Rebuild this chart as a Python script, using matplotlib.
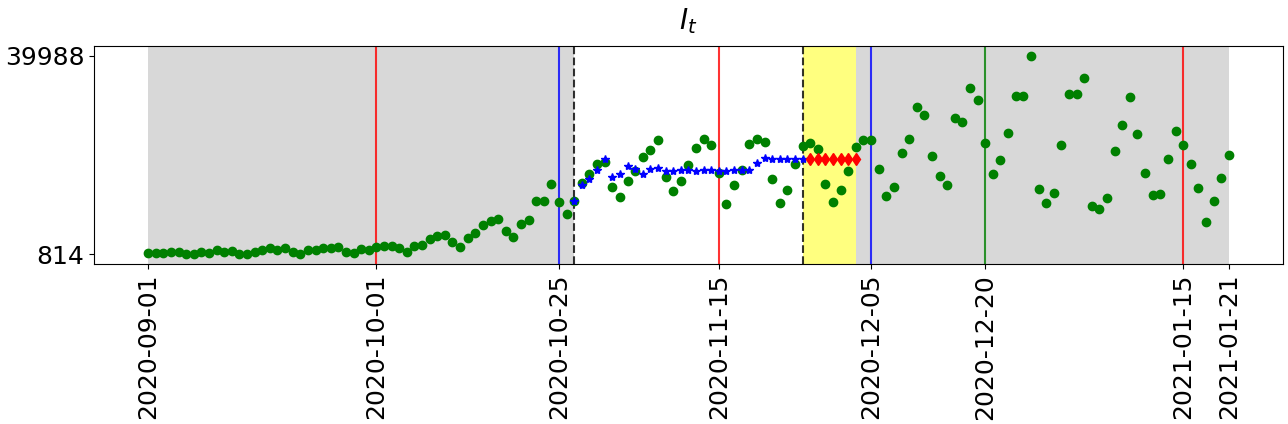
import matplotlib
matplotlib.use("Agg")
import matplotlib.pyplot as plt
import pandas as pd

# daily observed values, 2020-09-01 .. 2021-01-21
start = "2020-09-01"
observed = [
    1144, 1144, 1144, 1342, 1342, 946, 814, 1342, 1144, 1737,
    1342, 1540, 946, 814, 1342, 1737, 2133, 1737, 2133, 1342,
    814, 1737, 1737, 2133, 2133, 2331, 1342, 1144, 1935, 1737,
    2331, 2529, 2529, 2133, 1342, 2529, 2727, 3914, 4507, 4705,
    3320, 2331, 4112, 5101, 6486, 7277, 7673, 5496, 4309, 6684,
    7475, 11234, 11234, 14598, 11036, 8662, 11234, 14795, 16576, 18555,
    18950, 14004, 12026, 15191, 17170, 19940, 21324, 23303, 15983, 13213,
    15191, 18357, 21720, 23501, 22314, 16774, 10641, 14400, 17367, 22512,
    23501, 22907, 15587, 10838, 13410, 18555, 22116, 22709, 21522, 14598,
    11036, 13410, 17170, 21918, 23303, 23303, 17565, 12223, 14004, 20731,
    23501, 29832, 28249, 20137, 16180, 14400, 27656, 26864, 33591, 31217,
    22709, 16576, 19346, 24688, 32008, 32008, 39988, 13608, 10838, 12817,
    22314, 32404, 32404, 35570, 10245, 9651, 11828, 21127, 26271, 31811,
    24490, 16774, 12421, 12619, 19544, 25084, 22314, 18555, 13806, 7079,
    11234, 15785, 20335,
]

# fitted values (blue stars) from 2020-10-27 to 2020-11-26
fit_start = "2020-10-27"
fitted = [
    11234, 14466, 15719, 17433, 19610, 16114, 16708, 18291, 17697, 16708,
    17697, 17895, 17302, 17302, 17499, 17499, 17302, 17499, 17499, 17302,
    17302, 17499, 17499, 17499, 18884, 19874, 19676, 19676, 19676, 19676,
    19676,
]

# forecast (red diamonds) from 2020-11-27 to 2020-12-03
pred_start = "2020-11-27"
predicted = [19676, 19676, 19676, 19676, 19676, 19676, 19676]

red_lines = ["2020-10-01", "2020-11-15", "2021-01-15"]
blue_lines = ["2020-10-25", "2020-12-05"]
green_lines = ["2020-12-20"]
dashed_lines = ["2020-10-27", "2020-11-26"]
gray_spans = [("2020-09-01", "2020-10-27"), ("2020-12-03", "2021-01-21")]
yellow_span = ("2020-11-26", "2020-12-03")
tick_dates = ["2020-09-01", "2020-10-01", "2020-10-25", "2020-11-15",
              "2020-12-05", "2020-12-20", "2021-01-15", "2021-01-21"]

dates = pd.date_range(start, periods=len(observed), freq="D")
fit_dates = pd.date_range(fit_start, periods=len(fitted), freq="D")
pred_dates = pd.date_range(pred_start, periods=len(predicted), freq="D")

fig, ax = plt.subplots(figsize=(12.88, 4.24), dpi=100)

for a, b in gray_spans:
    ax.axvspan(pd.Timestamp(a), pd.Timestamp(b), color="gray", alpha=0.3, lw=0)
ax.axvspan(pd.Timestamp(yellow_span[0]), pd.Timestamp(yellow_span[1]),
           color="yellow", alpha=0.5, lw=0)

for d in red_lines:
    ax.axvline(pd.Timestamp(d), color="red", alpha=0.8, lw=1.5)
for d in blue_lines:
    ax.axvline(pd.Timestamp(d), color="blue", alpha=0.8, lw=1.5)
for d in green_lines:
    ax.axvline(pd.Timestamp(d), color="green", alpha=0.8, lw=1.5)
for d in dashed_lines:
    ax.axvline(pd.Timestamp(d), color="black", ls="--", alpha=0.8, lw=1.5)

ax.plot(dates, observed, "go", ms=6)
ax.plot(fit_dates, fitted, "b*", ms=6)
ax.plot(pred_dates, predicted, "rd", ms=6)

ax.set_xticks([pd.Timestamp(d) for d in tick_dates])
ax.set_xticklabels(tick_dates, rotation=90, fontsize=18)
ax.set_yticks([min(observed), max(observed)])
ax.set_yticklabels([str(min(observed)), str(max(observed))], fontsize=18)
ax.set_title("$I_t$", fontsize=20, pad=12)

fig.subplots_adjust(left=0.073, right=0.996, top=0.892, bottom=0.377)
fig.savefig("out.png", dpi=100)
